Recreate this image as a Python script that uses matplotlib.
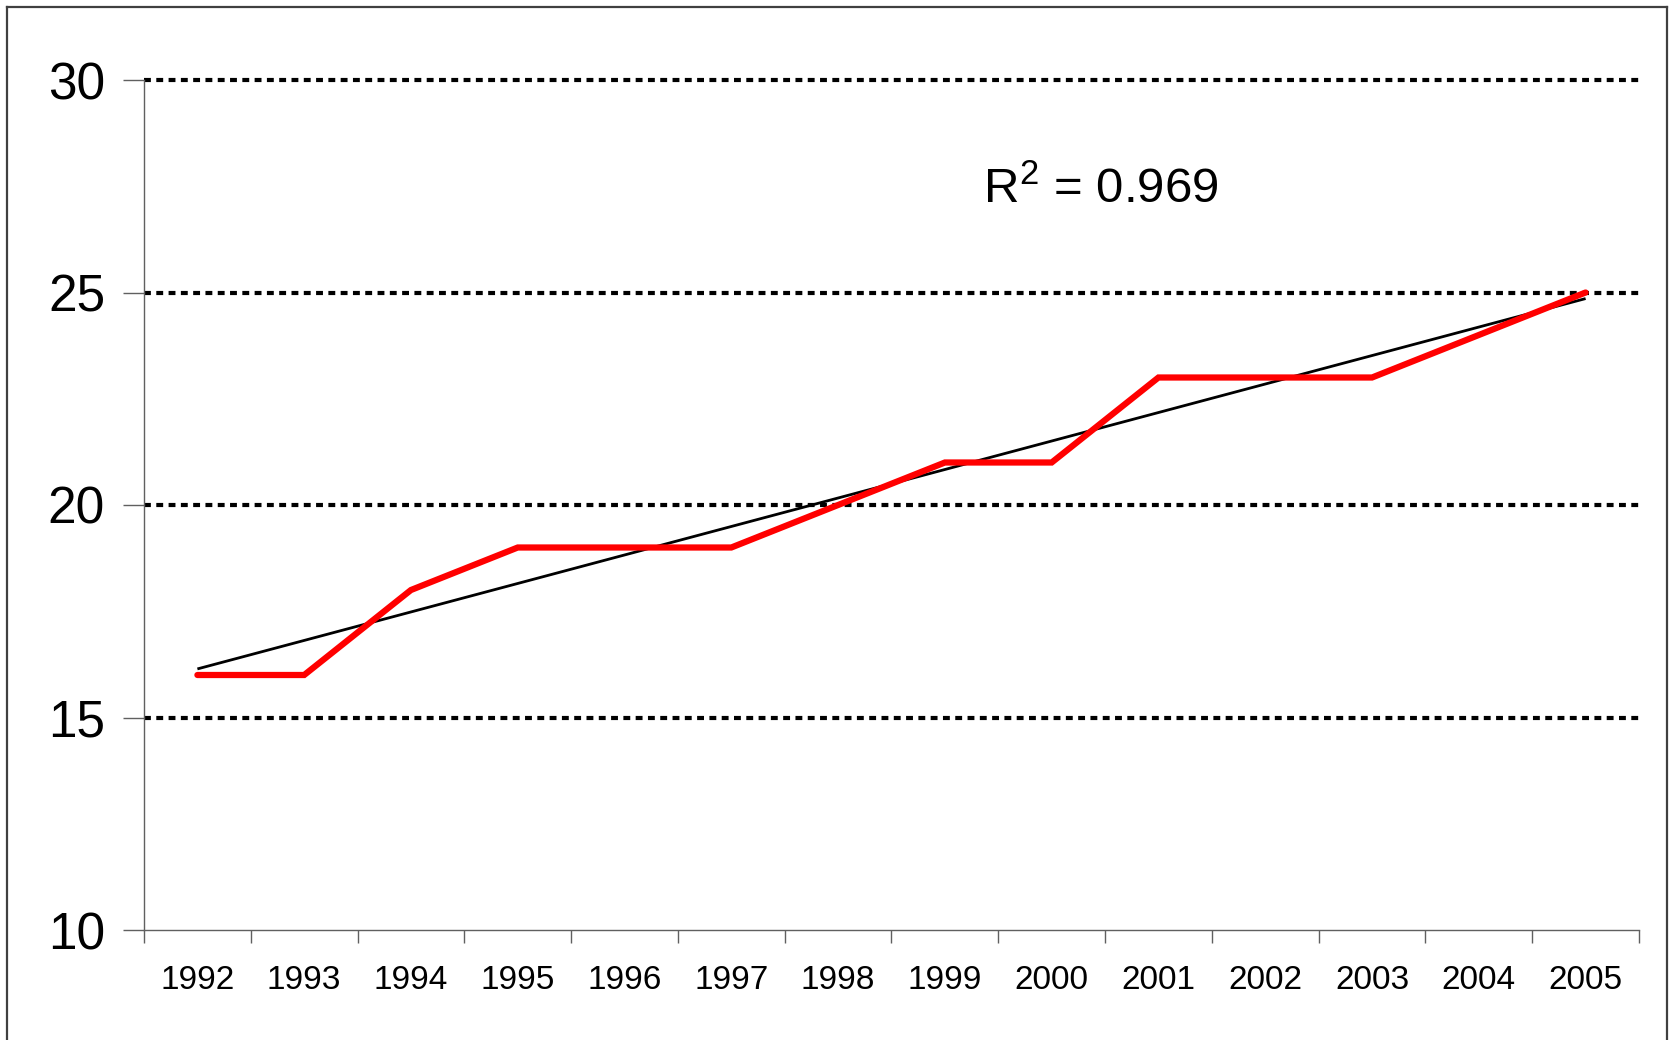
import numpy as np
import matplotlib
matplotlib.use("Agg")
import matplotlib.pyplot as plt
from matplotlib.lines import Line2D

plt.rcParams['font.family'] = ['Liberation Sans', 'DejaVu Sans']
plt.rcParams['mathtext.fontset'] = 'custom'
plt.rcParams['mathtext.rm'] = 'Liberation Sans'
plt.rcParams['mathtext.it'] = 'Liberation Sans'

years = ['1992', '1993', '1994', '1995', '1996', '1997', '1998',
         '1999', '2000', '2001', '2002', '2003', '2004', '2005']
values = [16, 16, 18, 19, 19, 19, 20, 21, 21, 23, 23, 23, 24, 25]
yticks = [10, 15, 20, 25, 30]
r2_label = 'R$^{2}$ = 0.969'

W, H = 1672, 1040
fig = plt.figure(figsize=(W / 100, H / 100), dpi=100)
ax = fig.add_axes([144 / W, 1 - 930 / H, (1639 - 144) / W, (930 - 80) / H])

x = np.arange(len(years))
y = np.array(values, dtype=float)

# gridlines
for g in yticks[1:]:
    ax.axhline(g, color='black', lw=3.0, linestyle=(0, (1.65, 1.3)), zorder=1,
               clip_on=False)

# trendline (linear fit)
coef = np.polyfit(x, y, 1)
ax.plot(x, np.polyval(coef, x), color='black', lw=2.0, zorder=2,
        solid_capstyle='butt')

# data line
ax.plot(x, y, color='#ff0000', lw=4.5, zorder=3, solid_capstyle='round',
        solid_joinstyle='miter')

ax.set_xlim(-0.5, len(years) - 0.5)
ax.set_ylim(10, 30)

ax.set_xticks(x)
ax.set_xticklabels(years, fontsize=24)
ax.set_xticks(np.arange(-0.5, len(years), 1.0), minor=True)
ax.tick_params(axis='x', which='major', length=0, pad=25)
ax.tick_params(axis='x', which='minor', length=9, width=1, color='#606060',
               direction='out')

ax.set_yticks(yticks)
ax.set_yticklabels([str(t) for t in yticks], fontsize=37)
ax.tick_params(axis='y', length=15, width=1, color='#606060', pad=13,
               direction='out')

for s in ['top', 'right']:
    ax.spines[s].set_visible(False)
for s in ['left', 'bottom']:
    ax.spines[s].set_color('#606060')
    ax.spines[s].set_linewidth(1.0)

ax.text(8.46, 27.1, r2_label, fontsize=35.5, ha='center', va='baseline')

# outer frame (top, left, right)
fc = '#404040'
fig.add_artist(Line2D([7 / W, 1667 / W], [1 - 7 / H, 1 - 7 / H],
                      transform=fig.transFigure, color=fc, lw=1.6))
fig.add_artist(Line2D([7 / W, 7 / W], [0, 1 - 7 / H],
                      transform=fig.transFigure, color=fc, lw=1.6))
fig.add_artist(Line2D([1667 / W, 1667 / W], [0, 1 - 7 / H],
                      transform=fig.transFigure, color=fc, lw=1.6))

fig.savefig('out.png', dpi=100, facecolor='white')
